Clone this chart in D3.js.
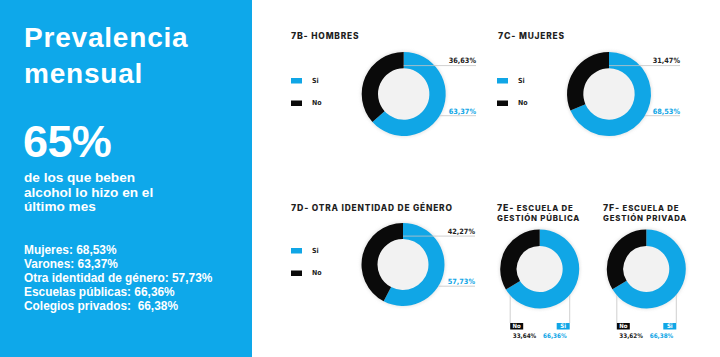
<!DOCTYPE html>
<html><head><meta charset="utf-8">
<script src="https://cdn.jsdelivr.net/npm/d3@7"></script>
<style>body{margin:0;background:#fff}svg{display:block}</style>
</head><body>
<svg id="c" width="720" height="357"></svg>
<script>
// ---- data ----
const categories = ["Si", "No"];
const chartCodes = ["7B-", "7C-", "7D-", "7E-", "7F-"];
const chartTitles = [["HOMBRES"], ["MUJERES"], ["OTRA IDENTIDAD DE GÉNERO"], ["ESCUELA DE", "GESTIÓN PÚBLICA"], ["ESCUELA DE", "GESTIÓN PRIVADA"]];
const siValues = [63.37, 68.53, 57.73, 66.36, 66.38];
const noValues = [36.63, 31.47, 42.27, 33.64, 33.62];
const headline = ["Prevalencia", "mensual"];
const bigNumber = "65%";
const subtitle = ["de los que beben", "alcohol lo hizo en el", "último mes"];
const statLabels = ["Mujeres:", "Varones:", "Otra identidad de género:", "Escuelas públicas:", "Colegios privados: "];
const statValues = ["68,53%", "63,37%", "57,73%", "66,36%", "66,38%"];

// ---- style ----
const BLUE = "#0ea8ea", DBLUE = "#10a6e6", BLACK = "#0a0a0a", GREY = "#c4c4c4";
const fmt = v => d3.format(".2f")(v).replace(".", ",") + "%";
const svg = d3.select("#c");
const defs = svg.append("defs");
defs.append("filter").attr("id", "halo").attr("x", "-20%").attr("y", "-20%").attr("width", "140%").attr("height", "140%")
  .append("feGaussianBlur").attr("stdDeviation", 1.6);

// left panel
svg.append("rect").attr("x", 0).attr("y", 0).attr("width", 252).attr("height", 357).attr("fill", BLUE);
const L = svg.append("g").attr("fill", "#fff").style("font-family", "'Liberation Sans', Arial, sans-serif").style("font-weight", "bold");
L.selectAll("text.h").data(headline).join("text").attr("class", "h")
  .attr("x", 24).attr("y", (d, i) => 47 + i * 35.5).attr("font-size", 28).attr("letter-spacing", 0.8).text(d => d);
L.append("text").attr("x", 23).attr("y", 157).attr("font-size", 45).attr("letter-spacing", -0.6).text(bigNumber);
L.selectAll("text.s").data(subtitle).join("text").attr("class", "s")
  .attr("x", 24).attr("y", (d, i) => 182 + i * 14.7).attr("font-size", 13.6).text(d => d);
L.selectAll("text.st").data(statLabels).join("text").attr("class", "st")
  .attr("x", 24).attr("y", (d, i) => 253.5 + i * 14).attr("font-size", 11.9).style("white-space", "pre")
  .text((d, i) => d + " " + statValues[i]);

// layouts
const layouts = [
  {type: "side", tx: 291, ty: 39.3, cx: 403.7, cy: 94, r: 42, ri: 25.7, lx: 291, ly: 80.5, labelX: 476},
  {type: "side", tx: 498, ty: 39.3, cx: 609, cy: 94, r: 42, ri: 25.7, lx: 497, ly: 80.5, labelX: 680},
  {type: "side", tx: 291, ty: 210.5, cx: 403, cy: 264.5, r: 41.5, ri: 25.5, lx: 291, ly: 250.5, labelX: 475},
  {type: "bottom", tx: 497, ty: 210.5, cx: 539.7, cy: 269, r: 39.5, ri: 23},
  {type: "bottom", tx: 603, ty: 210.5, cx: 646.3, cy: 269, r: 39.5, ri: 23}
];
const color = d3.scaleOrdinal().domain(categories).range([DBLUE, BLACK]);
const pie = d3.pie().sort(null).value(d => d.v);
const titleFont = "Inter, 'Open Sans', sans-serif";
const condFont = "'Liberation Sans Narrow', 'DejaVu Sans Condensed', 'Roboto', sans-serif";

layouts.forEach((lay, i) => {
  const g = svg.append("g");
  // title
  const t = g.append("text").attr("x", lay.tx).attr("y", lay.ty).attr("fill", "#1e1e1e")
    .style("font-family", titleFont).style("font-weight", 800).attr("letter-spacing", 0.8);
  chartTitles[i].forEach((line, k) => {
    if (k === 0) {
      t.append("tspan").attr("font-size", 8.8).text(chartCodes[i] + " ");
      t.append("tspan").attr("font-size", lay.type === "bottom" ? 7.8 : 8.4).text(line);
    } else {
      t.append("tspan").attr("x", lay.tx).attr("dy", 10.2).attr("font-size", 7.8).text(line);
    }
  });

  const data = categories.map((c, j) => ({c, v: j === 0 ? siValues[i] : noValues[i]}));
  const arcs = pie(data);
  const arc = d3.arc().innerRadius(lay.ri).outerRadius(lay.r);

  if (lay.type === "bottom") {
    const bw = 13, bh = 6.5, by = 323;
    const noX = lay.cx - 29.5, siX = lay.cx + 30 - bw;
    g.append("line").attr("x1", noX).attr("x2", noX).attr("y1", lay.cy).attr("y2", by).attr("stroke", GREY).attr("stroke-width", 0.8);
    g.append("line").attr("x1", siX + bw).attr("x2", siX + bw).attr("y1", lay.cy).attr("y2", by).attr("stroke", GREY).attr("stroke-width", 0.8);
    const boxes = [{c: "No", x: noX, v: noValues[i]}, {c: "Si", x: siX, v: siValues[i]}];
    boxes.forEach(b => {
      g.append("rect").attr("x", b.x).attr("y", by).attr("width", bw).attr("height", bh).attr("fill", color(b.c));
      g.append("text").attr("x", b.x + bw / 2).attr("y", by + 5.3).attr("text-anchor", "middle").attr("fill", "#fff")
        .style("font-family", condFont).style("font-weight", "bold").attr("font-size", 6).text(b.c);
      const isNo = b.c === "No";
      g.append("text").attr("x", isNo ? b.x + 2.5 : b.x + bw - 3).attr("y", 337.6)
        .attr("text-anchor", isNo ? "start" : "end")
        .attr("fill", isNo ? "#222" : DBLUE).style("font-family", condFont).style("font-weight", "bold")
        .attr("font-size", 6.3).text(fmt(b.v));
    });
  }

  // halo + ring
  g.append("circle").attr("cx", lay.cx).attr("cy", lay.cy).attr("r", lay.r + 1.2).attr("fill", "#d8d8d8").attr("opacity", 0.6).attr("filter", "url(#halo)");
  g.append("circle").attr("cx", lay.cx).attr("cy", lay.cy).attr("r", lay.ri).attr("fill", "#f2f2f2");
  g.append("g").attr("transform", `translate(${lay.cx},${lay.cy})`)
    .selectAll("path").data(arcs).join("path").attr("d", arc).attr("fill", d => color(d.data.c));

  if (lay.type === "side") {
    // legend
    categories.forEach((c, j) => {
      const y = lay.ly + j * 22.5;
      g.append("rect").attr("x", lay.lx).attr("y", y - 2.5).attr("width", 11).attr("height", 5.5).attr("fill", color(c));
      g.append("text").attr("x", lay.lx + 21).attr("y", y + 2.3).attr("fill", "#222")
        .style("font-family", condFont).style("font-weight", "bold").attr("font-size", 7).text(c);
    });
    // leader lines and labels
    const yNo = lay.cy - 28.4, ySi = lay.cy + 21.7;
    const xSi = lay.cx + Math.sqrt(lay.r * lay.r - 21.7 * 21.7);
    g.append("line").attr("x1", lay.cx).attr("x2", lay.labelX).attr("y1", yNo).attr("y2", yNo).attr("stroke", GREY).attr("stroke-width", 0.8);
    g.append("line").attr("x1", xSi).attr("x2", lay.labelX).attr("y1", ySi).attr("y2", ySi).attr("stroke", GREY).attr("stroke-width", 0.8);
    g.append("text").attr("x", lay.labelX).attr("y", yNo - 2.5).attr("text-anchor", "end").attr("fill", "#222")
      .style("font-family", condFont).style("font-weight", "bold").attr("font-size", 7.3).text(fmt(noValues[i]));
    g.append("text").attr("x", lay.labelX).attr("y", ySi - 2.2).attr("text-anchor", "end").attr("fill", DBLUE)
      .style("font-family", condFont).style("font-weight", "bold").attr("font-size", 7.3).text(fmt(siValues[i]));
  }
});
</script>
</body></html>
